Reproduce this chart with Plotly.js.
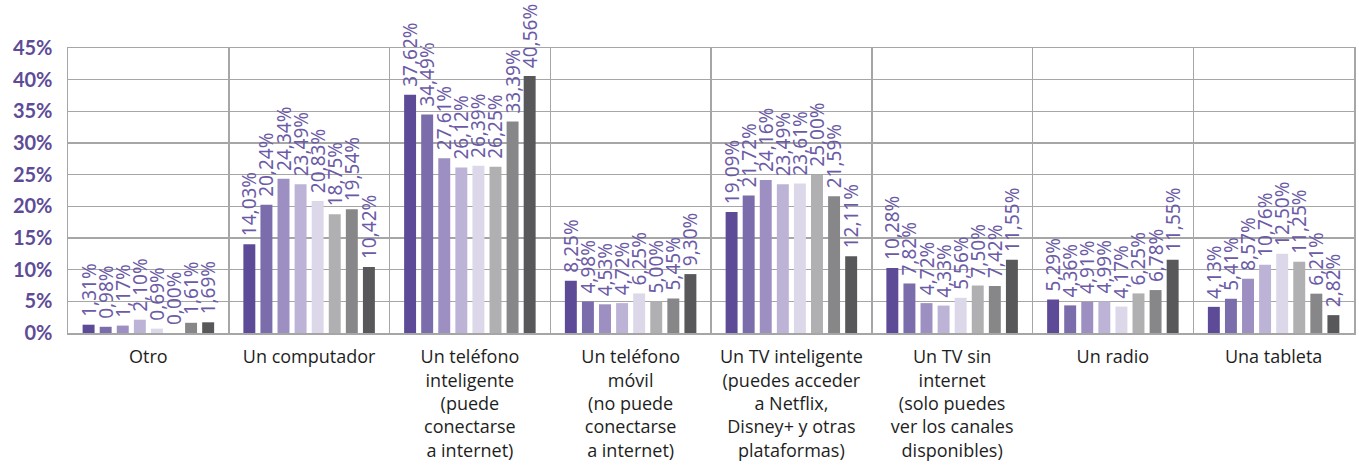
<!DOCTYPE html>
<html>
<head>
<meta charset="utf-8">
<script src="https://cdn.plot.ly/plotly-3.0.1.min.js"></script>
<style>html,body{margin:0;padding:0;background:#fff;}#chart{width:1359px;height:470px;}</style>
</head>
<body>
<div id="chart"></div>
<script>
const categories = [
  "Otro",
  "Un computador",
  "Un teléfono<br>inteligente<br>(puede<br>conectarse<br>a internet)",
  "Un teléfono<br>móvil<br>(no puede<br>conectarse<br>a internet)",
  "Un TV inteligente<br>(puedes acceder<br>a Netflix,<br>Disney+ y otras<br>plataformas)",
  "Un TV sin<br>internet<br>(solo puedes<br>ver los canales<br>disponibles)",
  "Un radio",
  "Una tableta"
];

const serie1 = [1.31, 14.03, 37.62, 8.25, 19.09, 10.28, 5.29, 4.13];
const serie2 = [0.98, 20.24, 34.49, 4.98, 21.72, 7.82, 4.36, 5.41];
const serie3 = [1.17, 24.34, 27.61, 4.53, 24.16, 4.72, 4.91, 8.57];
const serie4 = [2.10, 23.49, 26.12, 4.72, 23.49, 4.33, 4.99, 10.76];
const serie5 = [0.69, 20.83, 26.39, 6.25, 23.61, 5.56, 4.17, 12.50];
const serie6 = [0.00, 18.75, 26.25, 5.00, 25.00, 7.50, 6.25, 11.25];
const serie7 = [1.61, 19.54, 33.39, 5.45, 21.59, 7.42, 6.78, 6.21];
const serie8 = [1.69, 10.42, 40.56, 9.30, 12.11, 11.55, 11.55, 2.82];

const seriesNames = ["Serie 1","Serie 2","Serie 3","Serie 4","Serie 5","Serie 6","Serie 7","Serie 8"];
const seriesValues = [serie1, serie2, serie3, serie4, serie5, serie6, serie7, serie8];
const colors = ["#5e4b97","#7b6cab","#9d8fc1","#bdb3d7","#dcd8ea","#b0b0b2","#87878a","#58585b"];

const fmt = v => '\u00A0' + v.toFixed(2).replace('.', ',') + '%';

const traces = seriesValues.map((vals, i) => ({
  type: 'bar',
  name: seriesNames[i],
  x: categories,
  y: vals,
  text: vals.map(fmt),
  textposition: 'outside',
  textangle: -90,
  constraintext: 'none',
  cliponaxis: false,
  textfont: {family: '"Noto Sans", sans-serif', size: 19, color: '#6b5ba6'},
  marker: {color: colors[i]},
  hoverinfo: 'x+y',
  showlegend: false
}));

const layout = {
  width: 1359,
  height: 470,
  margin: {l: 68, r: 5, t: 48, b: 137},
  paper_bgcolor: '#ffffff',
  plot_bgcolor: '#ffffff',
  barmode: 'group',
  bargap: 0.15,
  bargroupgap: 0.3,
  showlegend: false,
  font: {family: 'Lato, sans-serif'},
  xaxis: {
    type: 'category',
    tickson: 'boundaries',
    showgrid: true,
    gridcolor: '#a6a6a6',
    gridwidth: 1.5,
    showline: true,
    linecolor: '#a6a6a6',
    linewidth: 1.5,
    mirror: true,
    ticks: '',
    ticklen: 0,
    tickangle: 0,
    ticklabelstandoff: 7,
    tickfont: {family: '"Open Sans", sans-serif', size: 18, color: '#1e1e1e'},
    automargin: false
  },
  yaxis: {
    range: [0, 45],
    dtick: 5,
    ticksuffix: '%',
    showgrid: true,
    gridcolor: '#a6a6a6',
    gridwidth: 1.5,
    showline: true,
    linecolor: '#a6a6a6',
    linewidth: 1.5,
    mirror: true,
    zeroline: false,
    ticks: '',
    ticklabelstandoff: 10,
    tickfont: {family: 'Lato, sans-serif', size: 20, color: '#5e4b97', weight: 'bold'},
    automargin: false
  }
};

Plotly.newPlot('chart', traces, layout, {displayModeBar: false, staticPlot: true});
</script>
</body>
</html>
